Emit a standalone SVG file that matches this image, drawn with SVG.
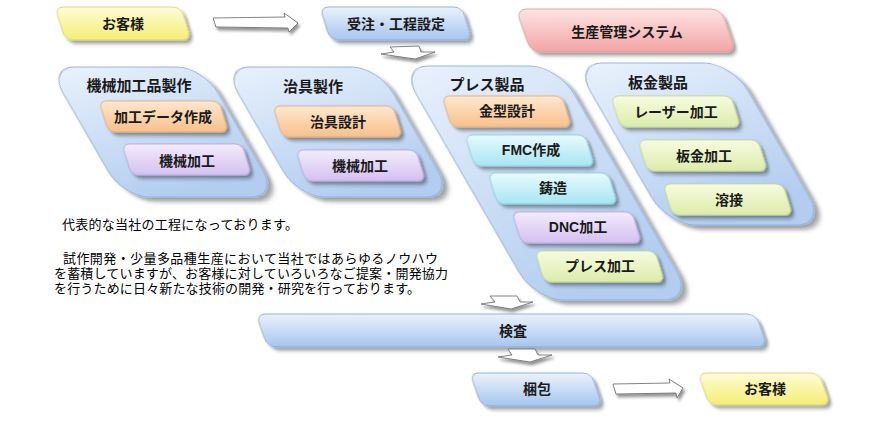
<svg xmlns="http://www.w3.org/2000/svg" width="870" height="424" viewBox="0 0 870 424">
<defs>
<style>
.lbl{font-family:"Liberation Sans","Noto Sans CJK JP",sans-serif;font-size:14px;font-weight:700;fill:#1a1a1a;text-anchor:middle}
.ttl{font-size:15px}
.para{font-family:"Liberation Sans","Noto Sans CJK JP",sans-serif;font-size:13px;fill:#000}
.yel{fill:url(#gYel);stroke:#d8d070;stroke-width:0.8}
.blu{fill:url(#gBlu);stroke:#7fa6d6;stroke-width:0.8}
.pnk{fill:url(#gPnk);stroke:#d99a9a;stroke-width:0.8}
.cont{fill:url(#gCont);stroke:#8eb2de;stroke-width:1}
.org{fill:url(#gOrg);stroke:#e0a870;stroke-width:0.8}
.pur{fill:url(#gPur);stroke:#b9a1dc;stroke-width:0.8}
.cya{fill:url(#gCya);stroke:#86cbe0;stroke-width:0.8}
.grn{fill:url(#gGrn);stroke:#c2d488;stroke-width:0.8}
.arr{fill:#fff;stroke:#666;stroke-width:0.8;stroke-linejoin:round}
</style>
<linearGradient id="gYel" x1="0" y1="0" x2="0" y2="1"><stop offset="0" stop-color="#fefcd6"/><stop offset="1" stop-color="#f4ee74"/></linearGradient>
<linearGradient id="gBlu" x1="0" y1="0" x2="0" y2="1"><stop offset="0" stop-color="#eaf2fc"/><stop offset="1" stop-color="#a6c5ee"/></linearGradient>
<linearGradient id="gPnk" x1="0" y1="0" x2="0" y2="1"><stop offset="0" stop-color="#fde4e4"/><stop offset="1" stop-color="#f3a4a4"/></linearGradient>
<linearGradient id="gCont" x1="0" y1="0" x2="0.3" y2="1"><stop offset="0" stop-color="#eaf2fc"/><stop offset="1" stop-color="#b2cdf0"/></linearGradient>
<linearGradient id="gOrg" x1="0" y1="0" x2="0" y2="1"><stop offset="0" stop-color="#fde8d0"/><stop offset="1" stop-color="#f8c08a"/></linearGradient>
<linearGradient id="gPur" x1="0" y1="0" x2="0" y2="1"><stop offset="0" stop-color="#f4ecfc"/><stop offset="1" stop-color="#d4c0f0"/></linearGradient>
<linearGradient id="gCya" x1="0" y1="0" x2="0" y2="1"><stop offset="0" stop-color="#e8fbfd"/><stop offset="1" stop-color="#a6e5f3"/></linearGradient>
<linearGradient id="gGrn" x1="0" y1="0" x2="0" y2="1"><stop offset="0" stop-color="#f7fbe0"/><stop offset="1" stop-color="#dcecaa"/></linearGradient>
<filter id="sh" x="-20%" y="-30%" width="140%" height="170%"><feDropShadow dx="2" dy="3" stdDeviation="1.8" flood-color="#000" flood-opacity="0.42"/></filter>
<filter id="shc" x="-20%" y="-20%" width="140%" height="140%"><feDropShadow dx="3" dy="4" stdDeviation="2.2" flood-color="#000" flood-opacity="0.38"/></filter>
</defs>
<rect width="870" height="424" fill="#fff"/>

<g id="n-customer-top">
<rect class="yel" filter="url(#sh)" transform="translate(55,7) skewX(17)" width="126" height="33" rx="8"/>
<text class="lbl" x="123" y="29">お客様</text>
</g>
<g id="n-order">
<rect class="blu" filter="url(#sh)" transform="translate(320,7) skewX(17)" width="142" height="33" rx="8"/>
<text class="lbl" x="396" y="29">受注・工程設定</text>
</g>
<g id="n-system">
<rect class="pnk" filter="url(#sh)" transform="translate(516,9) skewX(19)" width="205" height="43" rx="10"/>
<text class="lbl" x="627" y="37">生産管理システム</text>
</g>

<g id="n-machining">
<rect class="cont" filter="url(#shc)" transform="translate(48,67) skewX(30)" width="155" height="130" rx="26"/>
<text class="lbl ttl" x="139" y="91">機械加工品製作</text>
<rect class="org" filter="url(#sh)" transform="translate(99,101) skewX(17)" width="120" height="31" rx="7"/>
<text class="lbl" x="163" y="122">加工データ作成</text>
<rect class="pur" filter="url(#sh)" transform="translate(122,144) skewX(17)" width="120" height="31" rx="7"/>
<text class="lbl" x="187" y="166">機械加工</text>
</g>

<g id="n-jig">
<rect class="cont" filter="url(#shc)" transform="translate(223,67) skewX(30)" width="155" height="130" rx="26"/>
<text class="lbl ttl" x="313" y="92">治具製作</text>
<rect class="org" filter="url(#sh)" transform="translate(273,106) skewX(17)" width="120" height="31" rx="7"/>
<text class="lbl" x="338" y="127">治具設計</text>
<rect class="pur" filter="url(#sh)" transform="translate(296,150) skewX(17)" width="120" height="31" rx="7"/>
<text class="lbl" x="360" y="171">機械加工</text>
</g>

<g id="n-press">
<rect class="cont" filter="url(#shc)" transform="translate(400,66) skewX(30)" width="158" height="234" rx="28"/>
<text class="lbl ttl" x="487" y="90">プレス製品</text>
<rect class="org" filter="url(#sh)" transform="translate(442,96) skewX(17)" width="120" height="31" rx="7"/>
<text class="lbl" x="507" y="116">金型設計</text>
<rect class="cya" filter="url(#sh)" transform="translate(465,135) skewX(17)" width="120" height="31" rx="7"/>
<text class="lbl" x="531" y="155">FMC作成</text>
<rect class="cya" filter="url(#sh)" transform="translate(488,173) skewX(17)" width="120" height="31" rx="7"/>
<text class="lbl" x="553" y="193">鋳造</text>
<rect class="pur" filter="url(#sh)" transform="translate(512,212) skewX(17)" width="120" height="31" rx="7"/>
<text class="lbl" x="578" y="232">DNC加工</text>
<rect class="grn" filter="url(#sh)" transform="translate(535,251) skewX(17)" width="120" height="31" rx="7"/>
<text class="lbl" x="600" y="271">プレス加工</text>
</g>

<g id="n-sheet">
<rect class="cont" filter="url(#shc)" transform="translate(574,63) skewX(30)" width="158" height="162" rx="28"/>
<text class="lbl ttl" x="658" y="88">板金製品</text>
<rect class="grn" filter="url(#sh)" transform="translate(611,96) skewX(17)" width="120" height="31" rx="7"/>
<text class="lbl" x="676" y="117">レーザー加工</text>
<rect class="grn" filter="url(#sh)" transform="translate(638,140) skewX(17)" width="120" height="31" rx="7"/>
<text class="lbl" x="704" y="161">板金加工</text>
<rect class="grn" filter="url(#sh)" transform="translate(663,184) skewX(17)" width="120" height="31" rx="7"/>
<text class="lbl" x="729" y="205">溶接</text>
</g>

<g id="n-inspection">
<rect class="blu" filter="url(#sh)" transform="translate(256,314) skewX(19)" width="500" height="33" rx="9"/>
<text class="lbl" x="513" y="336">検査</text>
</g>
<g id="n-packing">
<rect class="blu" filter="url(#sh)" transform="translate(470,373) skewX(19)" width="121" height="33" rx="8"/>
<text class="lbl" x="537" y="394">梱包</text>
</g>
<g id="n-customer-bottom">
<rect class="yel" filter="url(#sh)" transform="translate(698,373) skewX(19)" width="121" height="32" rx="8"/>
<text class="lbl" x="765" y="394">お客様</text>
</g>

<g id="description">
<text class="para" x="62" y="229" textLength="236" lengthAdjust="spacing">代表的な当社の工程になっております。</text>
<text class="para" x="63" y="263" textLength="375" lengthAdjust="spacing">試作開発・少量多品種生産において当社ではあらゆるノウハウ</text>
<text class="para" x="54" y="278" textLength="394" lengthAdjust="spacing">を蓄積していますが、お客様に対していろいろなご提案・開発協力</text>
<text class="para" x="54" y="293" textLength="366" lengthAdjust="spacing">を行うために日々新たな技術の開発・研究を行っております。</text>
</g>

<g id="connectors">
<polygon class="arr" filter="url(#sh)" points="213,18 285,17 284,13 298,23 289,32 288,28 216,27"/>
<polygon class="arr" filter="url(#sh)" points="390,47 419,46 421,52 435,52 415,59 381,54 394,52"/>
<polygon class="arr" filter="url(#sh)" points="490,296 517,296 520,302 533,302 511,309 481,304 495,302"/>
<polygon class="arr" filter="url(#sh)" points="508,349 535,349 538,355 552,355 530,362 498,357 512,355"/>
<polygon class="arr" filter="url(#sh)" points="613,384 670,383 669,379 683,388 677,398 676,393 616,394"/>
</g>
</svg>
